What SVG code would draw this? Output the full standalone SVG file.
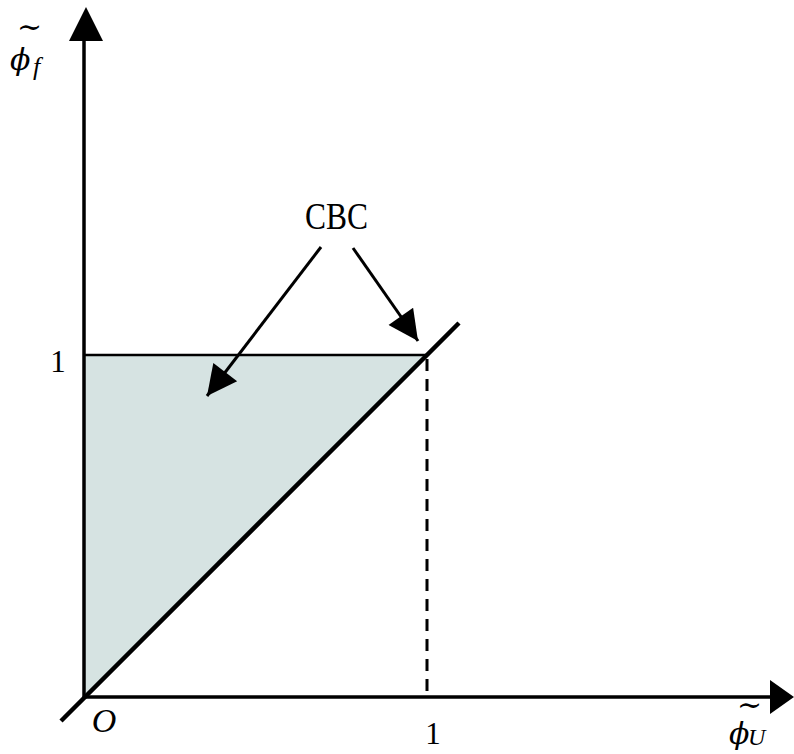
<svg xmlns="http://www.w3.org/2000/svg" width="794" height="754" viewBox="0 0 794 754">
<style>
.ax{stroke:#000;stroke-width:3.5;fill:none}
.ln{stroke:#000;fill:none}
.t{font-family:"Liberation Serif","DejaVu Serif",serif;fill:#000}
.i{font-style:italic}
.ph{font-family:"DejaVu Serif","Liberation Serif",serif;font-style:italic}
</style>
<defs>
<marker id="ah" viewBox="0 0 10 10" refX="10" refY="5" markerWidth="34" markerHeight="30" markerUnits="userSpaceOnUse" orient="auto">
<path d="M0,0 L10,5 L0,10 Z" fill="#000"/>
</marker>
</defs>
<rect width="794" height="754" fill="#fff"/>
<g id="region">
<polygon points="84,355 427,355 84,697" fill="#d6e3e2"/>
</g>
<g id="connectors">
<line class="ax" x1="84" y1="697" x2="84" y2="38"/>
<polygon points="86,7 69,41 103,41" fill="#000"/>
<line class="ax" x1="84" y1="697" x2="772" y2="697"/>
<polygon points="794,697 770,680 770,714" fill="#000"/>
<line class="ln" stroke-width="2.5" x1="84" y1="355" x2="427" y2="355"/>
<line class="ln" stroke-width="4.5" x1="61" y1="721" x2="459" y2="323"/>
<line class="ln" stroke-width="3" stroke-dasharray="12,8" x1="427" y1="359" x2="427" y2="697"/>
<line class="ln" stroke-width="3" x1="321" y1="247" x2="207" y2="396" marker-end="url(#ah)"/>
<line class="ln" stroke-width="3" x1="353" y1="248" x2="418" y2="341" marker-end="url(#ah)"/>
</g>
<g id="labels">
<text class="t" x="305" y="229" font-size="38" textLength="63" lengthAdjust="spacingAndGlyphs">CBC</text>
<text class="t" x="58" y="372" font-size="31" text-anchor="middle">1</text>
<text class="t" x="433" y="744" font-size="31" text-anchor="middle">1</text>
<text class="t i" x="104" y="732" font-size="34" text-anchor="middle">O</text>
<text class="t"><tspan x="17" y="37" font-size="30">∼</tspan><tspan class="ph" x="10" y="70" font-size="30">ϕ</tspan><tspan class="i" x="33" y="75" font-size="26">f</tspan></text>
<text class="t"><tspan x="737" y="715" font-size="30">∼</tspan><tspan class="ph" x="729" y="744" font-size="30">ϕ</tspan><tspan class="i" x="748" y="745" font-size="24">U</tspan></text>
</g>
</svg>
